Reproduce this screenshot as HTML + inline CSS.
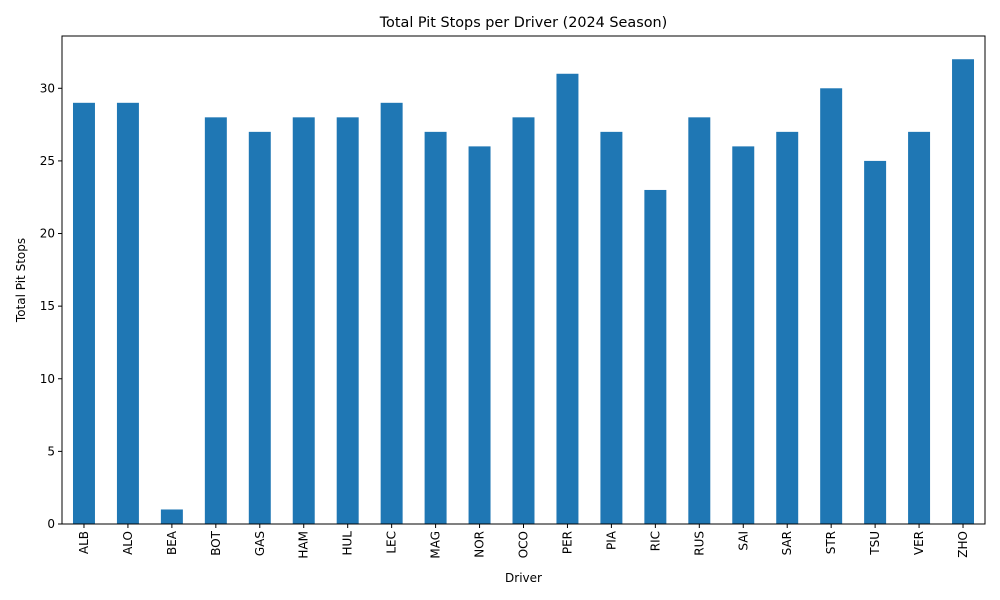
<!DOCTYPE html>
<html><head><meta charset="utf-8"><style>
html,body{margin:0;padding:0;background:#fff;}
svg{display:block;font-family:"DejaVu Sans","Liberation Sans",sans-serif;}
</style></head><body>
<svg id="chart" width="1000" height="600"></svg>
<script>
const categories = ["ALB","ALO","BEA","BOT","GAS","HAM","HUL","LEC","MAG","NOR","OCO","PER","PIA","RIC","RUS","SAI","SAR","STR","TSU","VER","ZHO"];
const values = [29,29,1,28,27,28,28,29,27,26,28,31,27,23,28,26,27,30,25,27,32];
const yTicks = [0,5,10,15,20,25,30];

const NS="http://www.w3.org/2000/svg";
const svg=document.getElementById('chart');
const L=62,R=985,T=36,B=524;
const yMax=Math.max(...values)*1.05;
const slot=(R-L)/categories.length;
const x=i=>L+slot*(i+0.5);
const y=v=>B-(v/yMax)*(B-T);
function mk(tag,attrs,text){const e=document.createElementNS(NS,tag);for(const k in attrs)e.setAttribute(k,attrs[k]);if(text!==undefined)e.textContent=text;svg.appendChild(e);return e;}

values.forEach((v,i)=>{
  const r=mk('rect',{x:x(i)-slot/4,y:y(v),width:slot/2,height:B-y(v),fill:'#1f77b4'});
  
  
});
const ax=mk('rect',{x:L,y:T,width:R-L,height:B-T,fill:'none',stroke:'#000','stroke-width':1});



yTicks.forEach(t=>{
  mk('line',{x1:L-4,x2:L,y1:y(t),y2:y(t),stroke:'#000'});
  const tl=mk('text',{x:L-7,y:y(t)+4,'text-anchor':'end','font-size':12},String(t));
  
  
});
categories.forEach((c,i)=>{
  mk('line',{x1:x(i),x2:x(i),y1:B,y2:B+4,stroke:'#000'});
  const tl=mk('text',{x:0,y:0,'text-anchor':'end','font-size':12,transform:`translate(${x(i)+4},${B+7}) rotate(-90)`},c);
  
  
});
const xt=mk('text',{x:(L+R)/2,y:582,'text-anchor':'middle','font-size':12},'Driver');


const yt=mk('text',{x:0,y:0,'text-anchor':'middle','font-size':12,transform:`translate(25,${(T+B)/2}) rotate(-90)`},'Total Pit Stops');


const tt=mk('text',{x:(L+R)/2,y:27,'text-anchor':'middle','font-size':14.4},'Total Pit Stops per Driver (2024 Season)');


</script>
</body></html>
